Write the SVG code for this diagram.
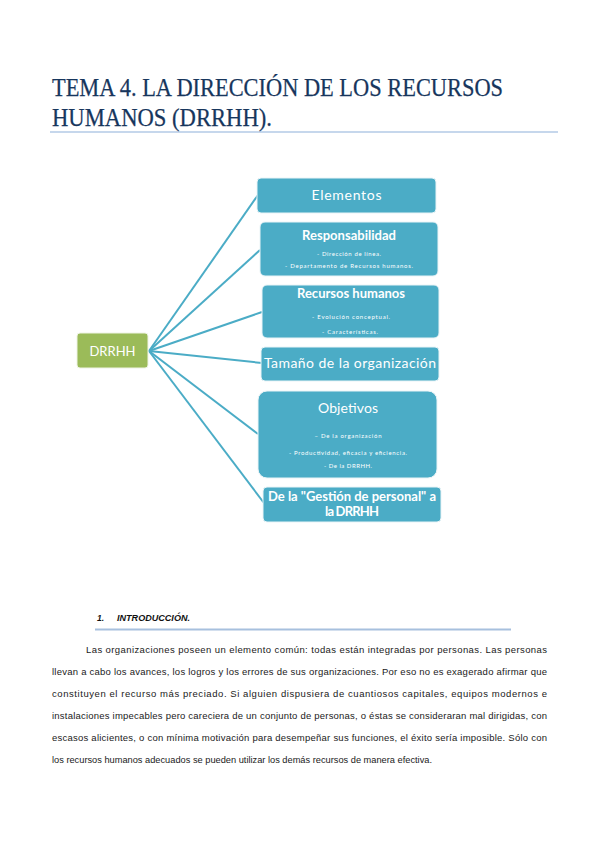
<svg xmlns="http://www.w3.org/2000/svg" width="599" height="848" viewBox="0 0 599 848">
<style>
.title{font-family:"Liberation Serif",serif;font-size:26px;fill:#17365D;stroke:#17365D;stroke-width:0.25}
.node{fill:#4BACC6;stroke:#EAF4F7;stroke-width:1}
.root{fill:#9BBB59;stroke:#EEF3E4;stroke-width:1}
.h{font-family:Lato,"Liberation Sans",sans-serif;fill:#FFFFFF;text-anchor:middle}
.big{font-size:14px}
.bold{font-size:13px;font-weight:bold}
.small{font-size:6px}
.conn line{stroke:#4BACC6;stroke-width:2;fill:none}
.body{font-family:"Liberation Sans",Lato,sans-serif;font-size:9.5px;fill:#1a1a1a}
</style>
<rect width="599" height="848" fill="#FFFFFF"/>
<text class="title" x="52" y="96" textLength="451" lengthAdjust="spacingAndGlyphs">TEMA 4. LA DIRECCIÓN DE LOS RECURSOS</text>
<text class="title" x="52" y="126" textLength="220" lengthAdjust="spacingAndGlyphs">HUMANOS (DRRHH).</text>
<line x1="50" y1="132" x2="558" y2="132" stroke="#8EB0DA" stroke-width="1.2"/>

<g class="conn">
<line x1="149" y1="351" x2="258" y2="195"/>
<line x1="149" y1="351" x2="260" y2="250"/>
<line x1="149" y1="351" x2="262" y2="312"/>
<line x1="149" y1="351" x2="262" y2="363"/>
<line x1="149" y1="351" x2="258" y2="434"/>
<line x1="149" y1="351" x2="264" y2="503"/>
</g>

<g id="drrhh">
<rect class="root" x="77" y="333" width="71" height="35" rx="3"/>
<text class="h" x="112.5" y="356" font-size="13" fill="#F4F6EE">DRRHH</text>
</g>
<g id="elementos">
<rect class="node" x="257" y="178" width="179" height="35" rx="4"/>
<text class="h big" x="346.5" y="200" textLength="70" lengthAdjust="spacing">Elementos</text>
</g>
<g id="responsabilidad">
<rect class="node" x="260" y="222" width="178" height="54" rx="5"/>
<text class="h bold" x="349" y="240" textLength="94" lengthAdjust="spacing">Responsabilidad</text>
<text class="h small" x="349" y="256" textLength="64" lengthAdjust="spacing">- Dirección de línea.</text>
<text class="h small" x="349" y="268" textLength="128" lengthAdjust="spacing">- Departamento de Recursos humanos.</text>
</g>
<g id="recursos">
<rect class="node" x="262" y="285" width="177" height="53" rx="5"/>
<text class="h bold" x="351" y="298" textLength="108" lengthAdjust="spacing">Recursos humanos</text>
<text class="h small" x="351" y="319" textLength="78" lengthAdjust="spacing">-  Evolución conceptual.</text>
<text class="h small" x="350" y="334" textLength="56" lengthAdjust="spacing">- Características.</text>
</g>
<g id="tamano">
<rect class="node" x="261" y="347" width="178" height="34" rx="4"/>
<text class="h big" x="350" y="368" textLength="172" lengthAdjust="spacing">Tamaño de la organización</text>
</g>
<g id="objetivos">
<rect class="node" x="258" y="391" width="179" height="87" rx="9"/>
<text class="h big" x="348" y="413" textLength="60" lengthAdjust="spacing">Objetivos</text>
<text class="h small" x="348" y="438" textLength="67" lengthAdjust="spacing">– De la organización</text>
<text class="h small" x="348" y="455" textLength="118" lengthAdjust="spacing">- Productividad, eficacia y eficiencia.</text>
<text class="h small" x="348" y="468" textLength="48" lengthAdjust="spacing">- De la DRRHH.</text>
</g>
<g id="gestion">
<rect class="node" x="263" y="487" width="178" height="35" rx="4"/>
<text class="h bold" x="352" y="501" textLength="168" lengthAdjust="spacing">De la "Gestión de personal" a</text>
<text class="h bold" x="352" y="516" textLength="54" lengthAdjust="spacing">la DRRHH</text>
</g>

<text x="97" y="621" font-family="Liberation Sans,sans-serif" font-size="8.5" font-weight="bold" font-style="italic" fill="#111">1.</text>
<text x="117" y="621" font-family="Liberation Sans,sans-serif" font-size="8.5" font-weight="bold" font-style="italic" fill="#111" textLength="73" lengthAdjust="spacingAndGlyphs">INTRODUCCIÓN.</text>
<line x1="95" y1="629.5" x2="511" y2="629.5" stroke="#A7C0DE" stroke-width="2"/>

<g class="body">
<text x="86" y="653" textLength="461" lengthAdjust="spacing">Las organizaciones poseen un elemento común: todas están integradas por personas. Las personas</text>
<text x="52" y="675" textLength="495" lengthAdjust="spacing">llevan a cabo los avances, los logros y los errores de sus organizaciones. Por eso no es exagerado afirmar que</text>
<text x="52" y="697" textLength="495" lengthAdjust="spacing">constituyen el recurso más preciado. Si alguien dispusiera de cuantiosos capitales, equipos modernos e</text>
<text x="52" y="719" textLength="495" lengthAdjust="spacing">instalaciones impecables pero careciera de un conjunto de personas, o éstas se consideraran mal dirigidas, con</text>
<text x="52" y="741" textLength="495" lengthAdjust="spacing">escasos alicientes, o con mínima motivación para desempeñar sus funciones, el éxito sería imposible. Sólo con</text>
<text x="52" y="763" textLength="380" lengthAdjust="spacingAndGlyphs">los recursos humanos adecuados se pueden utilizar los demás recursos de manera efectiva.</text>
</g>
</svg>
